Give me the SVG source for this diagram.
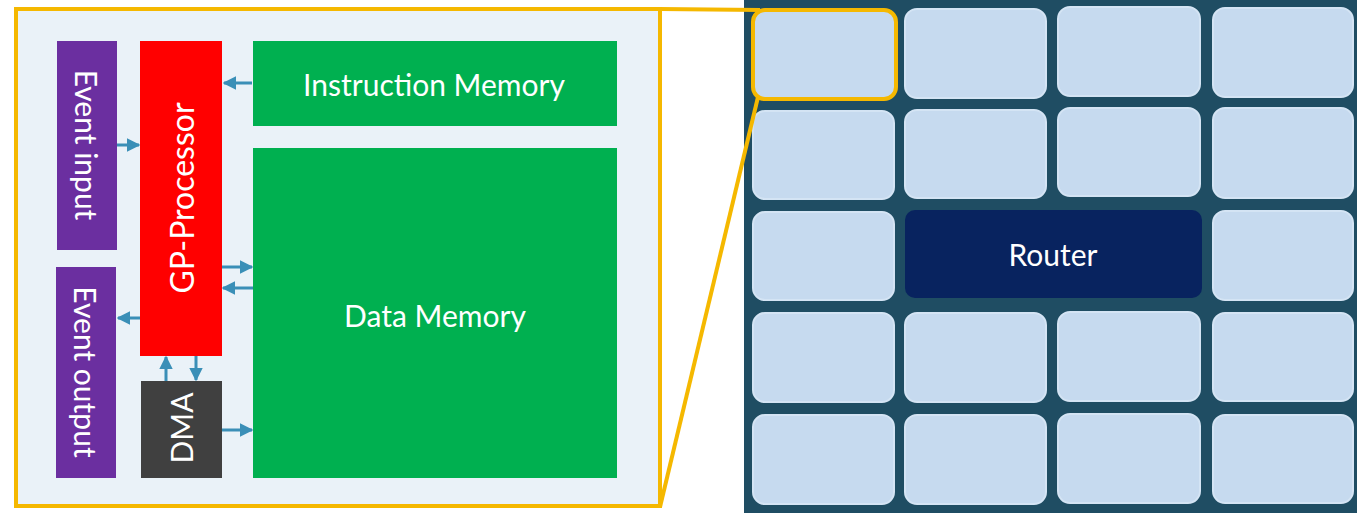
<svg xmlns="http://www.w3.org/2000/svg" width="1357" height="513" viewBox="0 0 1357 513">
<style>
.lbl{font-family:Lato,"Open Sans",sans-serif;fill:#ffffff;font-size:30px;text-anchor:middle;dominant-baseline:central}
.tile{fill:#c6daef;stroke:#d4e4f4;stroke-width:2}
.conn{stroke:#3a8fb7;stroke-width:3;fill:none}
.zoom{stroke:#f5b800;stroke-width:4;fill:none}
</style>
<defs>
<marker id="ah" viewBox="0 0 10 10" refX="9" refY="5" markerWidth="4.5" markerHeight="4.5" orient="auto" markerUnits="strokeWidth">
<path d="M0,0 L10,5 L0,10 z" fill="#3a8fb7"/>
</marker>
</defs>
<rect width="1357" height="513" fill="#ffffff"/>
<g id="panel">
<rect x="16" y="9" width="644" height="497" fill="#eaf2f8" stroke="#f5b800" stroke-width="4"/>
</g>
<g id="event-input">
<rect x="57" y="41" width="60" height="209" fill="#6b2fa0"/>
<text class="lbl" transform="translate(87,145) rotate(90)">Event input</text>
</g>
<g id="event-output">
<rect x="56" y="267" width="60" height="211" fill="#6b2fa0"/>
<text class="lbl" transform="translate(86,372) rotate(90)">Event output</text>
</g>
<g id="gp-processor">
<rect x="140" y="41" width="82" height="315" fill="#ff0000"/>
<text class="lbl" style="font-size:32px" transform="translate(181,198) rotate(-90)">GP-Processor</text>
</g>
<g id="dma">
<rect x="141" y="381" width="81" height="97" fill="#404040"/>
<text class="lbl" transform="translate(181,428) rotate(-90)">DMA</text>
</g>
<g id="instruction-memory">
<rect x="253" y="41" width="364" height="85" fill="#00b050"/>
<text class="lbl" x="434" y="84">Instruction Memory</text>
</g>
<g id="data-memory">
<rect x="253" y="148" width="364" height="330" fill="#00b050"/>
<text class="lbl" x="435" y="315">Data Memory</text>
</g>
<g id="connectors">
<line class="conn" x1="252" y1="83" x2="224" y2="83" marker-end="url(#ah)"/>
<line class="conn" x1="117" y1="145" x2="139" y2="145" marker-end="url(#ah)"/>
<line class="conn" x1="222" y1="267" x2="252" y2="267" marker-end="url(#ah)"/>
<line class="conn" x1="253" y1="288" x2="223" y2="288" marker-end="url(#ah)"/>
<line class="conn" x1="140" y1="318" x2="118" y2="318" marker-end="url(#ah)"/>
<line class="conn" x1="166" y1="381" x2="166" y2="357" marker-end="url(#ah)"/>
<line class="conn" x1="196" y1="356" x2="196" y2="380" marker-end="url(#ah)"/>
<line class="conn" x1="222" y1="430" x2="252" y2="430" marker-end="url(#ah)"/>
</g>
<rect x="744" y="0" width="613" height="513" fill="#1f4d63"/>
<g id="tiles">
<rect class="tile" x="753" y="10" width="143" height="89" rx="12"/>
<rect class="tile" x="905" y="9" width="141" height="89" rx="12"/>
<rect class="tile" x="1058" y="7" width="142" height="89" rx="12"/>
<rect class="tile" x="1213" y="8" width="140" height="89" rx="12"/>
<rect class="tile" x="753" y="111" width="141" height="88" rx="12"/>
<rect class="tile" x="905" y="110" width="141" height="88" rx="12"/>
<rect class="tile" x="1058" y="108" width="142" height="88" rx="12"/>
<rect class="tile" x="1213" y="108" width="140" height="90" rx="12"/>
<rect class="tile" x="753" y="212" width="141" height="88" rx="12"/>
<rect class="tile" x="1213" y="211" width="140" height="89" rx="12"/>
<rect class="tile" x="753" y="313" width="141" height="89" rx="12"/>
<rect class="tile" x="905" y="313" width="141" height="89" rx="12"/>
<rect class="tile" x="1058" y="312" width="142" height="89" rx="12"/>
<rect class="tile" x="1213" y="313" width="140" height="88" rx="12"/>
<rect class="tile" x="753" y="415" width="141" height="89" rx="12"/>
<rect class="tile" x="905" y="415" width="141" height="89" rx="12"/>
<rect class="tile" x="1058" y="414" width="142" height="89" rx="12"/>
<rect class="tile" x="1213" y="415" width="140" height="88" rx="12"/>
</g>
<g id="router">
<rect x="905" y="210" width="297" height="88" rx="10" fill="#08235f"/>
<text class="lbl" x="1053" y="254">Router</text>
</g>
<g id="zoom-lines">
<rect class="zoom" x="753" y="10" width="143" height="89" rx="12"/>
<line class="zoom" x1="660" y1="9" x2="760" y2="10"/>
<line class="zoom" x1="660" y1="507" x2="758" y2="97"/>
</g>
</svg>
